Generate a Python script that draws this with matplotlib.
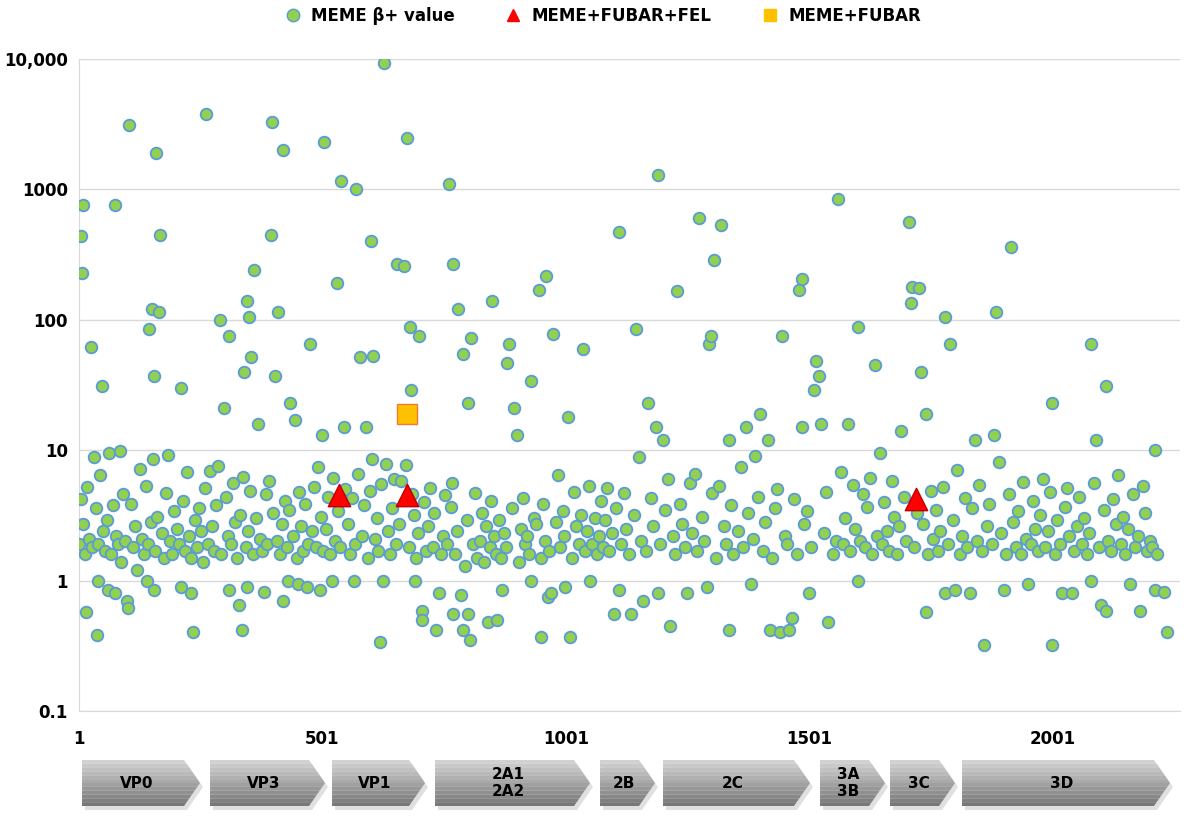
import matplotlib
matplotlib.use("Agg")
import matplotlib.pyplot as plt
from matplotlib.patches import Polygon
from matplotlib.lines import Line2D

# ---- data: MEME beta+ values (site, value) ----
high_x = [5,7,9,25,48,75,85,104,145,150,155,160,165,168,210,262,290,298,310,340,345,350,355,360,368,395,
          398,403,410,420,435,445,475,500,505,530,540,545,570,578,590,600,605,627,655,668,675,680,682,700,
          760,770,780,790,800,806,850,880,885,895,900,930,945,960,975,1005,1035,1110,1145,1170,1185,1190,
          1200,1230,1275,1295,1298,1305,1320,1335,1370,1400,1415,1445,1485,1480,1486,1510,1515,1520,1525,
          1560,1580,1600,1635,1690,1705,1710,1712,1725,1730,1740,1780,1790,1840,1880,1885,1915,2000,2080,
          2090,2110,2210]
high_y = [440,230,760,62,31,760,9.8,3100,85,120,37,1900,115,450,30,3800,100,21,75,40,140,105,52,240,16,450,
          3300,37,115,2000,23,17,65,13,2300,190,1150,15,1000,52,15,400,53,9400,270,260,2500,88,29,75,
          1100,270,120,55,23,73,140,47,65,21,13,34,170,215,78,18,60,470,85,23,15,1300,
          12,165,600,65,75,290,530,12,15,19,12,75,15,170,205,29,48,37,16,
          850,16,88,45,14,560,135,180,175,40,19,105,65,12,13,115,360,23,65,
          12,31,10]

low_x = [15,38,40,60,75,100,102,140,155,210,230,235,310,330,335,345,380,420,430,450,470,495,520,565,620,
         625,690,705,706,735,740,770,785,790,800,803,840,860,870,930,950,965,970,1000,1010,1050,1100,1110,
         1135,1160,1190,1215,1250,1290,1335,1380,1420,1440,1460,1465,1500,1540,1600,1740,1780,1800,1830,
         1860,1900,1950,2000,2020,2040,2080,2100,2110,2160,2180,2210,2230,2235]
low_y = [0.57,0.38,1.0,0.85,0.8,0.7,0.62,1.0,0.85,0.9,0.8,0.4,0.85,0.65,0.42,0.9,0.82,0.7,1.0,0.95,0.9,0.85,
         1.0,1.0,0.34,1.0,1.0,0.58,0.5,0.42,0.8,0.55,0.78,0.42,0.55,0.35,0.48,0.5,0.85,1.0,0.37,0.75,0.8,
         0.9,0.37,1.0,0.55,0.85,0.55,0.7,0.8,0.45,0.8,0.9,0.42,0.95,0.42,0.4,0.42,0.52,0.8,0.48,1.0,0.57,
         0.8,0.85,0.8,0.32,0.85,0.95,0.32,0.8,0.8,1.0,0.65,0.58,0.95,0.58,0.85,0.82,0.4]

band_x = [2,6,10,14,18,22,27,31,35,41,45,50,54,58,63,67,71,78,82,88,92,96,108,112,117,121,126,130,135,
          139,143,148,152,158,162,171,175,179,184,188,193,197,202,206,214,218,222,227,231,239,243,248,252,
          256,260,266,270,274,279,283,287,293,302,306,314,318,322,326,332,338,343,348,352,358,364,372,376,
          384,388,392,400,407,414,418,424,428,432,440,448,452,457,461,466,472,479,483,488,492,497,503,508,
          512,517,522,527,533,538,548,553,558,562,568,574,582,586,594,598,603,608,612,616,622,631,635,640,
          644,648,652,659,663,672,678,685,688,694,698,710,714,718,722,727,731,745,749,753,757,764,768,774,
          778,794,798,810,814,818,824,828,832,836,844,848,854,858,864,868,874,878,890,904,908,912,916,920,
          925,935,940,949,954,958,966,980,984,988,994,998,1014,1018,1022,1027,1031,1040,1044,1048,1055,
          1060,1064,1068,1072,1077,1082,1086,1090,1095,1104,1115,1120,1125,1130,1140,1150,1155,1165,1175,
          1180,1195,1205,1210,1220,1225,1235,1240,1245,1255,1260,1265,1270,1280,1285,1300,1310,1315,1325,
          1330,1340,1345,1355,1360,1365,1375,1385,1390,1395,1405,1410,1425,1430,1435,1450,1455,1470,1475,
          1490,1495,1505,1530,1535,1550,1555,1565,1570,1575,1585,1590,1595,1605,1610,1615,1620,1625,1630,
          1640,1645,1650,1655,1660,1665,1670,1675,1680,1685,1695,1700,1715,1722,1735,1745,1750,1755,1760,
          1765,1770,1775,1785,1795,1805,1810,1815,1820,1825,1835,1845,1850,1855,1865,1870,1875,1890,1895,
          1905,1910,1920,1925,1930,1935,1940,1945,1955,1960,1965,1970,1975,1980,1985,1990,1995,2005,2010,
          2015,2025,2030,2035,2045,2050,2055,2060,2065,2070,2075,2085,2095,2105,2115,2120,2125,2130,2135,
          2140,2145,2150,2155,2165,2170,2175,2185,2190,2195,2200,2205,2215,2220,2225,2232]
band_y = [1.9,4.2,2.7,1.6,5.2,2.1,1.8,8.8,3.6,1.9,6.5,2.4,1.7,2.9,9.5,1.6,3.8,2.2,1.9,1.4,4.6,2.0,3.9,
          1.8,2.6,1.2,7.2,2.1,1.6,5.3,1.9,2.8,8.6,1.7,3.1,2.3,1.5,4.7,9.2,2.0,1.6,3.4,2.5,1.9,4.1,1.7,6.8,
          2.2,1.5,2.9,1.8,3.6,2.4,1.4,5.1,1.9,6.9,2.6,1.7,3.8,7.5,1.6,4.4,2.2,1.9,5.6,2.8,1.5,3.2,6.2,1.8,
          2.4,4.9,1.6,3.0,2.1,1.7,4.6,1.9,5.8,3.3,2.0,1.6,2.7,4.1,1.8,3.5,2.2,1.5,4.8,2.6,1.7,3.9,1.9,2.4,
          5.2,1.8,7.4,3.1,1.7,2.5,4.4,1.6,6.1,2.0,3.4,1.8,5.0,2.7,1.6,4.3,1.9,6.6,2.2,3.8,1.5,4.9,8.5,2.1,
          3.0,1.7,5.5,7.9,2.4,1.6,3.6,6.0,1.9,2.7,5.8,7.7,1.8,4.6,3.2,1.5,2.3,4.0,1.7,2.6,5.1,1.8,3.3,1.6,
          2.2,4.5,1.9,3.7,5.6,1.6,2.4,1.3,2.9,1.9,4.7,1.5,2.0,3.3,1.4,2.6,1.8,4.1,2.2,1.6,2.9,1.5,2.3,1.8,
          3.6,1.4,2.5,4.3,1.9,2.2,1.6,3.0,2.7,1.5,3.9,2.0,1.7,2.8,6.4,1.8,3.4,2.2,1.5,4.8,2.6,1.9,3.2,1.7,
          2.4,5.3,1.9,3.0,1.6,2.2,4.1,1.8,2.9,5.1,1.7,2.3,3.6,1.9,4.7,2.5,1.6,3.2,8.9,2.0,1.7,4.3,2.6,1.9,
          3.5,6.0,2.2,1.6,3.9,2.7,1.8,5.6,2.3,6.6,1.7,3.1,2.0,4.7,1.5,5.3,2.6,1.9,3.8,1.6,2.4,7.4,1.8,3.3,
          2.1,9.0,4.4,1.7,2.8,1.5,3.6,5.0,2.2,1.9,4.2,1.6,2.7,3.4,1.8,2.3,4.8,1.6,2.0,6.8,1.9,3.0,1.7,5.4,
          2.5,2.0,4.6,1.8,3.7,6.1,1.6,2.2,9.6,1.9,4.0,2.4,1.7,5.8,3.1,1.6,2.6,4.4,2.0,1.8,3.3,2.7,1.6,4.9,
          2.1,3.5,1.7,2.4,5.2,1.9,2.9,7.1,1.6,2.2,4.3,1.8,3.6,2.0,5.4,1.7,2.6,3.9,1.9,8.1,2.3,1.6,4.6,2.8,
          1.8,3.4,1.6,5.7,2.1,1.9,4.1,2.5,1.7,3.2,6.0,1.8,2.4,4.8,1.6,2.9,1.9,3.7,5.1,2.2,1.7,2.6,4.4,1.9,
          3.0,1.6,2.3,5.6,1.8,3.5,2.0,1.7,4.2,2.7,6.5,1.9,3.1,1.6,2.5,4.6,1.8,2.2,5.3,3.3,1.7,2.0,1.8,1.6]

tri_x = [535, 675, 1720]
tri_y = [4.5, 4.5, 4.2]
sq_x = [675]
sq_y = [19]

xticks = [1, 501, 1001, 1501, 2001]
yticks = [0.1, 1, 10, 100, 1000, 10000]
ytick_labels = ["0.1", "1", "10", "100", "1000", "10,000"]

genes = ["VP0", "VP3", "VP1", "2A1\n2A2", "2B", "2C", "3A\n3B", "3C", "3D"]
gene_px = [(82, 200), (210, 325), (332, 425), (435, 590), (600, 655), (663, 810), (820, 885), (890, 955), (962, 1170)]


def pairs(xs, ys):
    n = min(len(xs), len(ys))
    return list(xs[:n]), list(ys[:n])


W, H = 1197, 831
fig = plt.figure(figsize=(W / 100, H / 100), dpi=100)
ax = fig.add_axes([79 / W, 1 - 711 / H, (1180 - 79) / W, (711 - 59) / H])
ax.set_yscale("log")
ax.set_ylim(0.1, 10000)
ax.set_xlim(1, 2262)

green = "#92D050"
edge = "#5B9BD5"
allx, ally = [], []
for xs, ys in [(band_x, band_y), (low_x, low_y), (high_x, high_y)]:
    a, b = pairs(xs, ys)
    allx += a
    ally += b
ax.scatter(allx, ally, s=70, c=green, edgecolors=edge, linewidths=1.3, zorder=3)
ax.scatter(tri_x, tri_y, s=260, marker="^", c="#FF0000", edgecolors="#C00000", linewidths=1, zorder=4)
ax.scatter(sq_x, sq_y, s=200, marker="s", c="#FFC000", edgecolors="#ED7D31", linewidths=1, zorder=4)

ax.set_yticks(yticks)
ax.set_yticklabels(ytick_labels)
ax.minorticks_off()
ax.set_xticks(xticks)
ax.grid(axis="y", color="#D9D9D9", linewidth=1, zorder=0)
for s in ["top", "right"]:
    ax.spines[s].set_visible(False)
for s in ["left", "bottom"]:
    ax.spines[s].set_color("#D9D9D9")
ax.tick_params(length=0, labelsize=12, pad=8)
for lab in ax.get_xticklabels() + ax.get_yticklabels():
    lab.set_fontweight("bold")
ax.tick_params(axis="x", pad=14)

handles = [
    Line2D([], [], marker="o", ls="", markerfacecolor=green, markeredgecolor=edge, markersize=9, label="MEME β+ value"),
    Line2D([], [], marker="^", ls="", markerfacecolor="#FF0000", markeredgecolor="#FF0000", markersize=9, label="MEME+FUBAR+FEL"),
    Line2D([], [], marker="s", ls="", markerfacecolor="#FFC000", markeredgecolor="#FFC000", markersize=9, label="MEME+FUBAR"),
]
fig.legend(handles=handles, loc="center", bbox_to_anchor=(0.5, 1 - 16 / H), ncol=3, frameon=False,
           prop={"weight": "bold", "size": 12}, handletextpad=0.1, columnspacing=2.5)

# gene map
gax = fig.add_axes([0, 0, 1, 1])
gax.set_xlim(0, W)
gax.set_ylim(H, 0)
gax.axis("off")
top, bot = 760, 806
mid = (top + bot) / 2
tip = 16
for name, (x0, x1) in zip(genes, gene_px):
    shadow = Polygon([(x0 + 3, top + 4), (x1 - tip + 3, top + 4), (x1 + 3, mid + 4), (x1 - tip + 3, bot + 4), (x0 + 3, bot + 4)],
                     closed=True, facecolor="#CCCCCC", edgecolor="none", alpha=0.6)
    gax.add_patch(shadow)
    n = 12
    for i in range(n):
        ya = top + (bot - top) * i / n
        yb = top + (bot - top) * (i + 1) / n

        def xr(y):
            return x1 - tip + tip * (1 - abs(y - mid) / (mid - top))
        pts = [(x0, ya), (xr(ya), ya)]
        if ya < mid < yb:
            pts.append((x1, mid))
        pts += [(xr(yb), yb), (x0, yb)]
        g = 0.82 - 0.35 * (i / (n - 1))
        gax.add_patch(Polygon(pts, closed=True, facecolor=(g, g, g), edgecolor="none"))
    gax.text((x0 + x1 - tip) / 2 + 4, mid, name, ha="center", va="center", fontsize=11, fontweight="bold",
             linespacing=1.1)

fig.savefig("out.png", dpi=100)
